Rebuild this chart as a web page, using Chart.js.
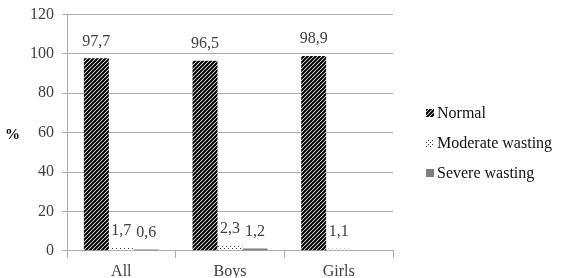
<!DOCTYPE html>
<html>
<head>
<meta charset="utf-8">
<script src="https://cdn.jsdelivr.net/npm/chart.js@4.4.1/dist/chart.umd.min.js"></script>
<style>
  html, body { margin: 0; padding: 0; background: #fff; }
  #wrap { width: 561px; height: 278px; position: relative; }
</style>
</head>
<body>
<div id="wrap"><canvas id="chart"></canvas></div>
<script>
const categories = ["All", "Boys", "Girls"];
const normal = [97.7, 96.5, 98.9];
const moderate = [1.7, 2.3, 1.1];
const severe = [0.6, 1.2, 0];
const yTicks = [0, 20, 40, 60, 80, 100, 120];

const FONT = "'Liberation Serif', 'Times New Roman', serif";
const TEXT = "#404040";
const GRID = "#ababab";

// hatch fill for the Normal bars
function hatchPattern() {
    const c = document.createElement("canvas");
    c.width = 4;
    c.height = 4;
    const g = c.getContext("2d");
    g.fillStyle = "#fff";
    g.fillRect(0, 0, 4, 4);
    g.strokeStyle = "#000";
    g.lineWidth = 2;
    g.beginPath();
    g.moveTo(-2, 6); g.lineTo(6, -2);
    g.moveTo(-2, 2); g.lineTo(2, -2);
    g.moveTo(2, 6); g.lineTo(6, 2);
    g.stroke();
    return g.createPattern(c, "repeat");
}

// sparse dots for Moderate wasting
function dotPattern() {
    const c = document.createElement("canvas");
    c.width = 4;
    c.height = 4;
    const g = c.getContext("2d");
    g.fillStyle = "#fff";
    g.fillRect(0, 0, 4, 4);
    g.fillStyle = "#333";
    g.fillRect(0, 0, 1, 1);
    g.fillRect(2, 2, 1, 1);
    return g.createPattern(c, "repeat");
}

const valueLabels = {
    id: "valueLabels",
    afterDatasetsDraw(chart) {
        const ctx = chart.ctx;
        ctx.save();
        ctx.font = "16px " + FONT;
        ctx.fillStyle = TEXT;
        ctx.textAlign = "center";
        ctx.textBaseline = "middle";
        chart.data.datasets.forEach((ds, i) => {
            chart.getDatasetMeta(i).data.forEach((bar, j) => {
                const v = ds.data[j];
                if (!v) return;
                ctx.fillText(String(v).replace(".", ","), bar.x, bar.y - 17);
            });
        });
        ctx.restore();
    },
};

// "%" title on the left and the legend on the right
const sideTexts = {
    id: "sideTexts",
    afterDraw(chart) {
        const ctx = chart.ctx;
        const area = chart.chartArea;
        ctx.save();
        ctx.font = "bold 15px " + FONT;
        ctx.fillStyle = "#000";
        ctx.textAlign = "left";
        ctx.textBaseline = "middle";
        ctx.fillText("%", 5, (area.top + area.bottom) / 2 + 3);

        ctx.font = "16px " + FONT;
        const x = area.right + 33;
        chart.data.datasets.forEach((ds, i) => {
            const y = 113 + i * 30;
            ctx.fillStyle = ds.backgroundColor;
            ctx.fillRect(x, y - 4, 8, 8);
            ctx.fillStyle = "#111";
            ctx.fillText(ds.label, x + 11, y + 1);
        });
        ctx.restore();
    },
};

new Chart(document.getElementById("chart"), {
    type: "bar",
    data: {
        labels: categories,
        datasets: [
            { label: "Normal", data: normal, backgroundColor: hatchPattern() },
            { label: "Moderate wasting", data: moderate, backgroundColor: dotPattern() },
            { label: "Severe wasting", data: severe, backgroundColor: "#7f7f7f" },
        ],
    },
    options: {
        responsive: true,
        maintainAspectRatio: false,
        animation: false,
        datasets: {
            bar: { categoryPercentage: 0.69, barPercentage: 1.0 },
        },
        layout: { padding: { left: 22, top: 1, right: 168, bottom: -8 } },
        plugins: {
            legend: { display: false },
            tooltip: { enabled: false },
        },
        scales: {
            x: {
                grid: {
                    drawOnChartArea: false,
                    drawTicks: true,
                    tickLength: 7,
                    color: GRID,
                },
                border: { color: GRID },
                ticks: {
                    color: TEXT,
                    font: { family: FONT, size: 16 },
                    padding: 4.5,
                },
            },
            y: {
                min: 0,
                max: 120,
                afterBuildTicks: (axis) => {
                    axis.ticks = yTicks.map((v) => ({ value: v }));
                },
                grid: { color: GRID, tickLength: 5 },
                border: { color: GRID },
                ticks: {
                    color: TEXT,
                    font: { family: FONT, size: 16, lineHeight: 0.8 },
                    padding: 8,
                },
            },
        },
    },
    plugins: [valueLabels, sideTexts],
});
</script>
</body>
</html>
